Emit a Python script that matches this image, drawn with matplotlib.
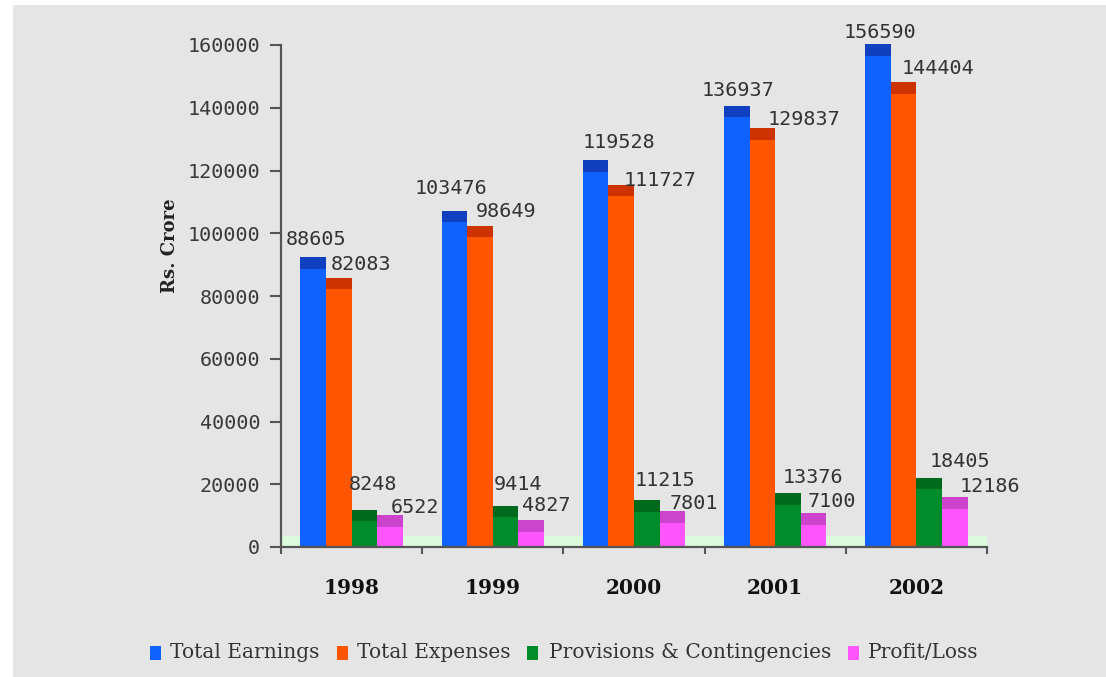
import matplotlib
matplotlib.use("Agg")
import matplotlib.pyplot as plt
from matplotlib.patches import Rectangle
import numpy as np

years = ["1998", "1999", "2000", "2001", "2002"]
series_names = ["Total Earnings", "Total Expenses", "Provisions & Contingencies", "Profit/Loss"]
total_earnings = [88605, 103476, 119528, 136937, 156590]
total_expenses = [82083, 98649, 111727, 129837, 144404]
provisions = [8248, 9414, 11215, 13376, 18405]
profit_loss = [6522, 4827, 7801, 7100, 12186]
y_ticks = [0, 20000, 40000, 60000, 80000, 100000, 120000, 140000, 160000]

series = [total_earnings, total_expenses, provisions, profit_loss]
face_colors = ["#1062ff", "#ff5500", "#008c2a", "#ff55ff"]
cap_colors = ["#1040c0", "#cc3300", "#006a1c", "#cc44cc"]

# label placement tweaks (pixels) relative to the top of each bar's cap
label_dx = [[3, -3, 23, 1, 2], [22, 26, 39, 42, 34], [9, 12, 18, 25, 31], [25, 15, 21, 18, 35]]
label_dy = [[12, 17, 12, 10, 6], [8, 9, -1, 3, 8], [20, 16, 14, 10, 11], [2, 9, 2, 6, 5]]

W, H = 1106, 677
fig = plt.figure(figsize=(W / 100, H / 100), dpi=100)
fig.patch.set_facecolor("white")
fig.add_artist(Rectangle((13 / W, 0), 1 - 13 / W, 1 - 5 / H, transform=fig.transFigure,
                         facecolor="#e5e5e5", edgecolor="none", zorder=-10))

left, right, bottom, top = 281, 987, 547, 45
ax = fig.add_axes([left / W, 1 - bottom / H, (right - left) / W, (bottom - top) / H])
ax.set_facecolor("none")

n = len(years)
x = np.arange(n) + 0.5
bw = 25.6 / ((right - left) / n)
cap = 3700

ax.axhspan(0, 3500, xmin=0, xmax=1, color="#dcfadc", zorder=0.5, lw=0)

for j, vals in enumerate(series):
    pos = x + (j - 1.5) * bw
    ax.bar(pos, vals, width=bw, color=face_colors[j], zorder=2, lw=0, clip_on=False)
    ax.bar(pos, [cap] * n, bottom=vals, width=bw, color=cap_colors[j], zorder=2, lw=0, clip_on=False)
    for i, v in enumerate(vals):
        ax.annotate(f"{v}", xy=(pos[i], v + cap), xytext=(label_dx[j][i], label_dy[j][i]),
                    textcoords="offset pixels", ha="center", va="baseline",
                    fontsize=14.5, family="DejaVu Sans Mono", color="#333333",
                    annotation_clip=False, zorder=5)

ax.set_xlim(0, n)
ax.set_ylim(0, 160000)
for s in ["top", "right"]:
    ax.spines[s].set_visible(False)
for s in ["left", "bottom"]:
    ax.spines[s].set_color("#555555")
    ax.spines[s].set_linewidth(1.6)

ax.set_yticks(y_ticks)
ax.set_yticklabels([str(t) for t in y_ticks], family="DejaVu Sans Mono", fontsize=14.5, color="#3a3a3a")
ax.tick_params(axis="y", direction="out", length=8, width=1.5, color="#555555", pad=7)

ax.set_xticks(x)
ax.set_xticklabels(years, family="DejaVu Serif", fontweight="bold", fontsize=14.5, color="#111111")
ax.tick_params(axis="x", which="major", length=0, pad=22)
ax.set_xticks(np.arange(n + 1), minor=True)
ax.tick_params(axis="x", which="minor", direction="out", length=5, width=1.5, color="#555555")

fig.text(170 / W, 1 - 246 / H, "Rs. Crore", rotation=90, ha="center", va="center",
         family="DejaVu Serif", fontweight="bold", fontsize=13, color="#222222")

# legend
leg_y = 653
patch_x = [150, 337, 527, 848]
text_x = [170, 357, 549, 868]
for j, name in enumerate(series_names):
    fig.add_artist(Rectangle((patch_x[j] / W, 1 - (leg_y + 7) / H), 11 / W, 14 / H,
                             transform=fig.transFigure, facecolor=face_colors[j], edgecolor="none"))
    fig.text(text_x[j] / W, 1 - leg_y / H, name, ha="left", va="center",
             family="DejaVu Serif", fontsize=14.5, color="#333333")

fig.savefig("out.png", dpi=100, facecolor=fig.get_facecolor())
